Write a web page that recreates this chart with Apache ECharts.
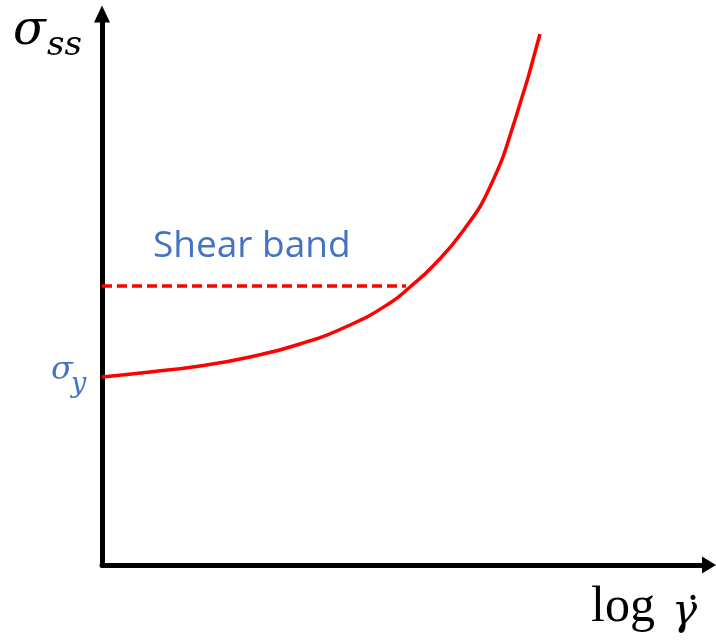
<!DOCTYPE html>
<html>
<head>
<meta charset="utf-8">
<script src="https://cdn.jsdelivr.net/npm/echarts@6/dist/echarts.min.js"></script>
<style>
html,body{margin:0;padding:0;background:#fff;}
#chart{width:716px;height:643px;}
</style>
</head>
<body>
<div id="chart"></div>
<script>
// Flow curve: x = log strain rate (arbitrary units), y = steady-state stress (arbitrary units)
var curveX = [0, 48, 98, 148, 198, 248, 288, 308, 331, 361, 388, 413, 438];
var curveY = [188, 193, 199, 208, 221, 240, 262, 278, 299, 334, 378, 445, 531];
// Shear band plateau (dashed)
var bandX = [0, 304];
var bandY = [279, 279];
var xMax = 607;
var yMax = 551;

var curveData = curveX.map(function (x, i) { return [x, curveY[i]]; });
var bandData = bandX.map(function (x, i) { return [x, bandY[i]]; });

var chart = echarts.init(document.getElementById('chart'));
var blue = '#4472C4';
chart.setOption({
  backgroundColor: '#fff',
  animation: false,
  grid: { left: 102, right: 7, top: 14, bottom: 78 },
  xAxis: {
    type: 'value', min: 0, max: xMax,
    axisLine: { show: true, onZero: false, symbol: ['none', 'triangle'], symbolSize: [17, 14],
      lineStyle: { color: '#000', width: 5 } },
    axisTick: { show: false }, axisLabel: { show: false }, splitLine: { show: false }
  },
  yAxis: {
    type: 'value', min: 0, max: yMax,
    axisLine: { show: true, onZero: false, symbol: ['none', 'triangle'], symbolSize: [16, 17],
      lineStyle: { color: '#000', width: 5 } },
    axisTick: { show: false }, axisLabel: { show: false }, splitLine: { show: false }
  },
  series: [
    {
      type: 'line', data: curveData, smooth: 0.5, showSymbol: false, clip: false,
      lineStyle: { color: '#FF0000', width: 3.5 }
    },
    {
      type: 'line', data: bandData, showSymbol: false, clip: false,
      lineStyle: { color: '#FF0000', width: 3.5, type: [10, 5] }
    }
  ],
  graphic: [
    { type: 'text', left: 13, top: 8, style: { text: 'σ', font: 'italic 48px "DejaVu Serif"', fill: '#000' } },
    { type: 'text', left: 47, top: 29, style: { text: 'ss', font: 'italic 34px "DejaVu Serif"', fill: '#000' } },
    { type: 'text', left: 51, top: 355, style: { text: 'σ', font: 'italic 32px "DejaVu Serif"', fill: blue } },
    { type: 'text', left: 71, top: 371, style: { text: 'y', font: 'italic 27px "DejaVu Serif"', fill: blue } },
    { type: 'text', left: 153, top: 228, style: { text: 'Shear band', font: '37px "Open Sans"', fill: blue } },
    { type: 'text', left: 591, top: 583, style: { text: 'log', font: '50px "Liberation Serif"', fill: '#000' } },
    { type: 'text', left: 672, top: 592, style: { text: 'γ', font: 'italic 42px "DejaVu Serif"', fill: '#000' } },
    { type: 'text', left: 682, top: 596, style: { text: '˙', font: '44px "DejaVu Serif"', fill: '#000' } }
  ]
});
</script>
</body>
</html>
